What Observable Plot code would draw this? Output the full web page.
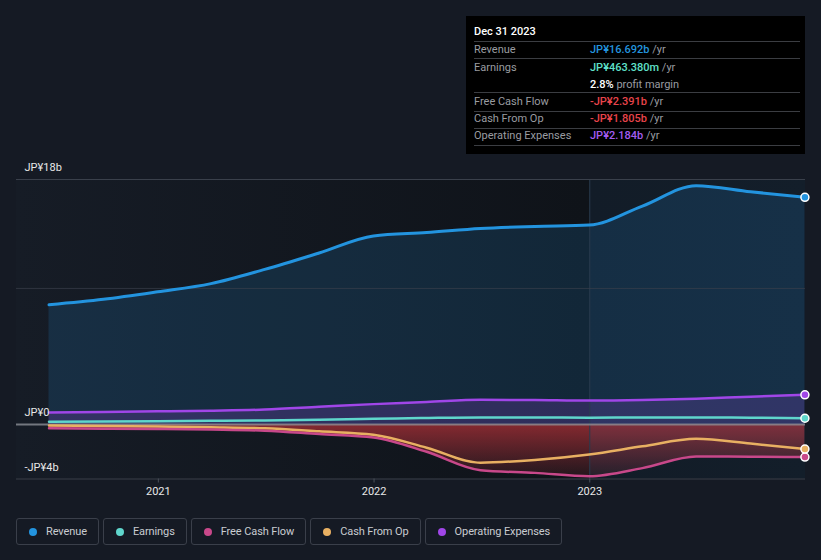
<!DOCTYPE html>
<html><head><meta charset="utf-8">
<script src="https://cdn.jsdelivr.net/npm/d3@7"></script>
<script src="https://cdn.jsdelivr.net/npm/@observablehq/plot@0.6"></script>
<style>
html,body{margin:0;padding:0;background:#151a24;}
body{width:821px;height:560px;overflow:hidden;font-family:Roboto,"Noto Sans",sans-serif;}
#wrap{position:relative;width:821px;height:560px;}
#chart{position:absolute;left:0;top:0;}
#tip{position:absolute;left:466px;top:16px;width:339px;height:138px;background:#000;color:#fff;font-size:11px;}
#tip .t{position:absolute;left:8px;top:15px;transform:translateY(-50%);font-weight:500;color:#fff;}
#tip .sep{position:absolute;left:8px;width:326px;height:1px;background:#3b3d42;}
#tip .row{position:absolute;left:8px;width:326px;transform:translateY(-50%);white-space:nowrap;}
#tip .lab{position:absolute;left:0;color:#9a9ca0;transform:translateY(-50%);}
#tip .val{position:absolute;left:116px;transform:translateY(-50%);color:#9a9ca0;}
#tip .val b{font-weight:500;}
#legend{position:absolute;left:16px;top:518px;display:flex;gap:4px;}
#legend .item{box-sizing:border-box;height:27px;border:1px solid #3a3f4a;border-radius:3px;display:flex;align-items:center;padding:0 11px 0 12px;font-size:11px;letter-spacing:-0.1px;color:#c9ccd1;}
#legend .dot{width:8px;height:8px;border-radius:50%;margin-right:9px;}
</style>
</head><body>
<div id="wrap">
  <div id="chart"></div>
  <div id="tip"></div>
  <div id="legend"></div>
</div>
<script>
// ---- data (JP¥ billions, trailing twelve months) ----
const dates = ["2020-06-30","2020-09-30","2020-12-31","2021-03-31","2021-06-30","2021-09-30","2021-12-31","2022-03-31","2022-06-30","2022-09-30","2022-12-31","2023-03-31","2023-06-30","2023-09-30","2023-12-31"];
const revenue      = [8.8, 9.2, 9.75, 10.35, 11.4, 12.6, 13.85, 14.1, 14.4, 14.55, 14.65, 16.05, 17.55, 17.1, 16.692];
const earnings     = [0.2, 0.22, 0.25, 0.28, 0.3, 0.35, 0.42, 0.48, 0.52, 0.52, 0.5, 0.52, 0.52, 0.5, 0.46338];
const freeCashFlow = [-0.27, -0.3, -0.33, -0.37, -0.45, -0.7, -0.95, -2.0, -3.35, -3.55, -3.8, -3.2, -2.35, -2.36, -2.391];
const cashFromOp   = [-0.07, -0.1, -0.15, -0.2, -0.28, -0.5, -0.75, -1.7, -2.8, -2.6, -2.2, -1.6, -1.05, -1.4, -1.805];
const opex         = [0.88, 0.92, 0.97, 1.02, 1.1, 1.3, 1.5, 1.65, 1.82, 1.8, 1.76, 1.8, 1.9, 2.05, 2.184];

const seriesNames  = ["Revenue","Earnings","Free Cash Flow","Cash From Op","Operating Expenses"];
const seriesKeys   = ["revenue","earnings","fcf","cfo","opex"];
const seriesColors = ["#2394df","#5fd6cc","#c8488a","#e8b062","#a046e8"];

const yTickValues = [18, 0, -4];
const yTickLabels = ["JP¥18b","JP¥0","-JP¥4b"];
const yGridValues = [18, 10];
const xTickDates  = ["2021-01-01","2022-01-01","2023-01-01"];
const highlightStart = "2023-01-01";

const tipTitle = "Dec 31 2023";
const tipRows = [
  {label:"Revenue", value:"JP¥16.692b", color:"#2394df", suffix:" /yr"},
  {label:"Earnings", value:"JP¥463.380m", color:"#5fe0c9", suffix:" /yr"},
  {label:"", value:"2.8%", color:"#ffffff", suffix:" profit margin"},
  {label:"Free Cash Flow", value:"-JP¥2.391b", color:"#e8444b", suffix:" /yr"},
  {label:"Cash From Op", value:"-JP¥1.805b", color:"#e8444b", suffix:" /yr"},
  {label:"Operating Expenses", value:"JP¥2.184b", color:"#a45cf0", suffix:" /yr"}
];

// ---- build table ----
const rows = dates.map((d, i) => ({
  date: new Date(d), revenue: revenue[i], earnings: earnings[i],
  fcf: freeCashFlow[i], cfo: cashFromOp[i], opex: opex[i]
}));
const last = rows[rows.length - 1];
const lastDots = seriesKeys.map((k, i) => ({date: last.date, v: last[k], c: seriesColors[i]}));

const xDomain = [new Date("2020-05-06"), new Date("2024-01-01")];
const W = 821, H = 500;
const curve = "monotone-x";

const plot = Plot.plot({
  width: W, height: H,
  marginTop: 179, marginBottom: 21.5, marginLeft: 16, marginRight: 16,
  style: {background: "transparent", fontFamily: "Roboto, sans-serif", fontSize: "11px", color: "#e6e6e6"},
  x: {type: "utc", domain: xDomain, axis: null},
  y: {domain: [-4, 18], axis: null},
  marks: [
    Plot.rect([0], {x1: () => xDomain[0], x2: () => xDomain[1], y1: () => -4, y2: () => 18, fill: "url(#bgGrad)"}),
    Plot.areaY(rows, {x: "date", y: "revenue", curve, fill: "#2394df", fillOpacity: 0.16}),
    Plot.areaY(rows, {x: "date", y: "opex", curve, fill: "#a046e8", fillOpacity: 0.2}),
    Plot.areaY(rows, {x: "date", y: "fcf", curve, fill: "url(#negGrad)"}),
    Plot.rect([0], {x1: () => new Date(highlightStart), x2: () => xDomain[1], y1: () => -4, y2: () => 18, fill: "#3d8fd8", fillOpacity: 0.08}),
    Plot.ruleX([new Date(highlightStart)], {y1: -4, y2: 18, stroke: "#2a3b4d", strokeWidth: 1}),
    Plot.ruleY(yGridValues, {stroke: "#3a404b", strokeWidth: 1, strokeOpacity: d => d === 18 ? 1 : 0.7}),
    Plot.ruleY([-4], {stroke: "#3a3f49", strokeWidth: 1}),
    Plot.ruleY([0], {stroke: "#8b8f96", strokeWidth: 2, strokeOpacity: 0.8}),
    Plot.lineY(rows, {x: "date", y: "revenue", curve, stroke: seriesColors[0], strokeWidth: 3}),
    Plot.lineY(rows, {x: "date", y: "opex", curve, stroke: seriesColors[4], strokeWidth: 2.5}),
    Plot.lineY(rows, {x: "date", y: "earnings", curve, stroke: seriesColors[1], strokeWidth: 2.5}),
    Plot.lineY(rows, {x: "date", y: "cfo", curve, stroke: seriesColors[3], strokeWidth: 2.5}),
    Plot.lineY(rows, {x: "date", y: "fcf", curve, stroke: seriesColors[2], strokeWidth: 2.5}),
    Plot.dot(lastDots, {x: "date", y: "v", r: 4, fill: "c", stroke: "#ffffff", strokeWidth: 1.5}),
    Plot.text(yTickValues, {y: d => d, frameAnchor: "left", dx: 8, dy: -12, textAnchor: "start", text: (d, i) => yTickLabels[i], fill: "#e8e8e8", fontSize: 11}),
    Plot.axisX(xTickDates.map(d => new Date(d)), {tickSize: 4, tickPadding: 4, stroke: "#4a505a", fill: "#e8e8e8", fontSize: 11, tickFormat: d3.utcFormat("%Y"), label: null})
  ]
});
document.getElementById("chart").appendChild(plot);

const svg = d3.select(plot);
const defs = svg.insert("defs", ":first-child");
const bg = defs.append("linearGradient").attr("id", "bgGrad").attr("gradientUnits", "userSpaceOnUse")
  .attr("x1", 16).attr("x2", 806).attr("y1", 0).attr("y2", 0);
bg.append("stop").attr("offset", "0%").attr("stop-color", "#161c26");
bg.append("stop").attr("offset", "72%").attr("stop-color", "#0f1319");
bg.append("stop").attr("offset", "100%").attr("stop-color", "#10151c");
const ng = defs.append("linearGradient").attr("id", "negGrad").attr("gradientUnits", "userSpaceOnUse")
  .attr("x1", 0).attr("x2", 0).attr("y1", 424).attr("y2", 478);
ng.append("stop").attr("offset", "0%").attr("stop-color", "#9a2d34").attr("stop-opacity", 0.85);
ng.append("stop").attr("offset", "100%").attr("stop-color", "#9a2d34").attr("stop-opacity", 0.12);

const tip = document.getElementById("tip");
tip.insertAdjacentHTML("beforeend", `<div class="t">${tipTitle}</div>`);
const sepY = [25, 42, 76, 94.5, 112, 129];
sepY.forEach(y => tip.insertAdjacentHTML("beforeend", `<div class="sep" style="top:${y}px"></div>`));
const rowY = [33, 50.5, 67.5, 84.5, 102, 119];
tipRows.forEach((r, i) => {
  tip.insertAdjacentHTML("beforeend",
    `<div class="row" style="top:${rowY[i]}px"><span class="lab">${r.label}</span><span class="val"><b style="color:${r.color}">${r.value}</b>${r.suffix}</span></div>`);
});

const legend = document.getElementById("legend");
seriesNames.forEach((n, i) => {
  legend.insertAdjacentHTML("beforeend", `<div class="item"><span class="dot" style="background:${seriesColors[i]}"></span>${n}</div>`);
});
</script>
</body></html>
